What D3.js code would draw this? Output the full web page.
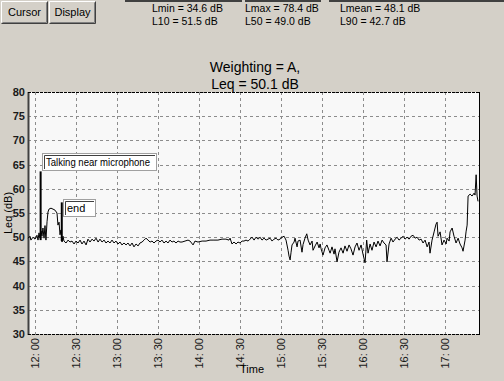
<!DOCTYPE html>
<html>
<head>
<meta charset="utf-8">
<script src="https://cdn.jsdelivr.net/npm/d3@7"></script>
<style>
  body { margin: 0; background: #d4d0c8; }
  svg { display: block; font-family: "Liberation Sans", Arial, sans-serif; }
  .grid line { stroke: #8c8c8c; stroke-dasharray: 3,3; shape-rendering: crispEdges; }
  .tick-lbl { font-size: 11px; font-weight: bold; fill: #1a1a1a; }
</style>
</head>
<body>
<svg width="504" height="381"></svg>
<script>
// minutes after 12:00 and the A-weighted level
const minutes = [-5.3, -3.9, -3.2, -1.7, -0.2, 1.2, 2.0, 2.7, 3.4, 4.2, 4.9, 5.6, 6.4, 7.1, 7.8, 8.6, 9.3, 10.0, 11.5, 13.0,
  14.4, 15.9, 16.6, 17.4, 18.1, 18.8, 19.6, 20.3, 21.0, 22.5, 24.0, 25.4, 26.9, 28.4, 29.8, 31.3, 32.8, 34.2, 35.7, 37.2,
  38.6, 40.1, 41.6, 43.0, 44.5, 46.0, 47.4, 48.9, 50.4, 51.8, 53.3, 54.7, 56.2, 57.7, 59.1, 60.6, 62.1, 63.5, 65.0, 66.5,
  67.9, 69.4, 70.9, 72.3, 73.8, 75.3, 76.7, 78.2, 79.7, 81.1, 82.6, 84.1, 85.5, 87.0, 88.4, 89.9, 91.4, 92.8, 94.3, 95.8,
  97.2, 98.7, 100.2, 101.6, 103.1, 104.6, 106.0, 107.5, 109.7, 111.9, 113.4, 115.6, 117.0, 119.2, 122.2, 125.1, 128.0, 130.9, 133.8, 136.8,
  139.7, 141.9, 142.7, 144.1, 145.6, 147.1, 148.5, 150.0, 151.5, 152.9, 154.4, 155.9, 157.3, 158.8, 160.3, 161.7, 163.2, 164.7, 166.1, 167.6,
  169.1, 170.5, 172.0, 173.5, 174.9, 176.4, 177.8, 179.3, 180.8, 182.3, 183.7, 185.2, 185.9, 186.7, 187.4, 188.1, 189.6, 190.3, 191.8, 192.5,
  194.0, 195.4, 196.2, 197.6, 198.9, 199.9, 201.3, 202.8, 203.5, 205.0, 206.5, 207.9, 208.7, 209.4, 210.8, 212.3, 213.7, 215.2, 216.0, 217.4,
  218.9, 219.6, 221.1, 222.5, 224.0, 225.5, 226.9, 228.4, 229.9, 231.3, 232.8, 234.3, 235.7, 237.2, 238.7, 240.1, 241.6, 242.8, 243.8, 245.3,
  246.7, 248.2, 249.7, 251.1, 252.6, 254.1, 255.5, 257.0, 257.7, 259.2, 260.7, 262.1, 263.6, 265.1, 266.5, 268.0, 269.5, 270.9, 272.4, 273.9,
  275.3, 276.8, 278.3, 279.7, 281.2, 282.7, 284.1, 285.6, 287.1, 288.5, 289.2, 290.7, 292.2, 293.6, 294.4, 295.1, 296.6, 298.0, 299.5, 301.0,
  301.7, 303.2, 303.9, 305.4, 306.8, 308.3, 309.8, 311.2, 312.7, 313.4, 314.9, 315.6, 316.4, 317.1, 318.6, 320.0, 321.5, 322.2, 323.0, 323.7,
  324.4];
const leq = [49.8, 50.2, 49.4, 50.0, 49.6, 50.4, 49.4, 50.9, 49.8, 51.3, 50.2, 51.9, 49.8, 52.4, 49.4, 53.2, 55.2, 55.8, 56.0, 55.8,
  55.6, 55.0, 52.5, 53.1, 50.5, 51.5, 49.0, 50.2, 49.2, 48.8, 49.4, 49.0, 49.2, 48.6, 49.2, 48.8, 49.4, 48.6, 49.2, 48.4,
  49.6, 49.0, 49.6, 49.2, 49.8, 49.0, 49.6, 49.0, 49.4, 48.8, 49.2, 48.8, 49.4, 48.8, 49.2, 48.6, 49.0, 48.4, 48.8, 48.4,
  48.8, 48.2, 48.8, 48.0, 48.6, 48.2, 48.8, 49.0, 49.4, 49.8, 49.4, 49.0, 49.2, 48.8, 49.2, 49.4, 49.0, 49.4, 48.8, 49.2,
  48.8, 49.4, 49.0, 49.2, 48.8, 49.2, 49.0, 49.0, 49.2, 49.4, 49.2, 48.4, 49.2, 49.0, 49.2, 49.2, 49.4, 49.4, 49.4, 49.6,
  49.6, 49.4, 49.8, 48.6, 49.0, 48.6, 49.0, 48.8, 49.2, 49.2, 49.4, 49.2, 49.6, 50.0, 49.4, 50.0, 49.6, 50.0, 49.4, 49.8,
  49.4, 49.6, 49.8, 49.2, 49.6, 49.8, 49.4, 49.6, 50.0, 50.2, 49.4, 47.3, 46.1, 45.3, 46.9, 48.4, 49.0, 49.8, 48.0, 49.2,
  49.4, 46.9, 48.5, 49.8, 50.7, 49.4, 48.4, 49.2, 47.3, 48.2, 49.0, 47.8, 48.6, 47.6, 46.3, 47.8, 48.4, 47.3, 46.7, 48.0,
  46.5, 47.6, 44.9, 46.9, 47.8, 46.7, 48.2, 47.1, 48.4, 47.6, 46.3, 48.0, 48.8, 47.3, 48.4, 46.5, 44.7, 49.4, 46.7, 48.6,
  47.3, 49.0, 48.0, 49.2, 48.2, 49.4, 48.8, 48.4, 44.9, 48.6, 49.8, 49.0, 49.6, 50.0, 49.4, 49.8, 50.2, 49.6, 50.0, 49.6,
  50.2, 50.4, 49.8, 50.0, 49.4, 49.6, 48.8, 49.4, 48.0, 49.0, 46.7, 49.4, 51.1, 52.7, 53.1, 50.2, 51.1, 48.4, 49.4, 48.6,
  49.8, 49.2, 51.1, 51.9, 50.2, 48.8, 49.8, 48.6, 47.8, 47.1, 49.4, 51.1, 52.5, 58.5, 58.9, 58.5, 59.1, 58.7, 62.9, 58.5,
  57.4];

const yTicks = [30, 35, 40, 45, 50, 55, 60, 65, 70, 75, 80];
const xTickMinutes = [0, 30, 60, 90, 120, 150, 180, 210, 240, 270, 300];

const statsLeft = ["Lmin = 34.6 dB", "L10 = 51.5 dB"];
const statsMid = ["Lmax = 78.4 dB", "L50 = 49.0 dB"];
const statsRight = ["Lmean = 48.1 dB", "L90 = 42.7 dB"];
const titleLines = ["Weighting = A,", "Leq = 50.1 dB"];

// annotations: label, minute and level where the marker sits
const noteLabels = ["Talking near microphone", "end"];
const noteMinutes = [3.9, 19.4];
const noteTop = [63.6, 57.2];
const noteBottom = [49.4, 49.2];

const base = new Date(2000, 0, 1, 12, 0);
const toDate = m => new Date(base.getTime() + m * 60000);

const svg = d3.select('svg');
const pLeft = 28, pRight = 479, pTop = 92, pBottom = 334;

const x = d3.scaleTime()
            .domain([toDate(-5.35), toDate(325.1)])
            .range([pLeft, pRight]);
const y = d3.scaleLinear()
            .domain([30, 80])
            .range([pBottom, pTop]);

// buttons
const buttons = [{t: 'Cursor', x: 1, w: 47}, {t: 'Display', x: 49, w: 47}];
buttons.forEach(b => {
    const g = svg.append('g').attr('transform', `translate(${b.x}, 1)`);
    g.append('rect').attr('width', b.w).attr('height', 22).attr('fill', '#d4d0c8');
    g.append('path').attr('d', `M0.5,21.5 V0.5 H${b.w - 0.5}`).attr('stroke', '#ffffff').attr('fill', 'none');
    g.append('path').attr('d', `M0.5,22.5 H${b.w - 0.5} V0.5`).attr('stroke', '#404040').attr('fill', 'none');
    g.append('path').attr('d', `M1.5,21.5 H${b.w - 1.5} V1.5`).attr('stroke', '#808080').attr('fill', 'none');
    g.append('text').attr('x', b.w / 2).attr('y', 15).attr('text-anchor', 'middle')
     .attr('font-size', 11).attr('fill', '#000').text(b.t);
});

// group-box edges peeking at the top
[[125, 242], [245, 321], [329, 504]].forEach(s => {
    svg.append('rect').attr('x', s[0]).attr('y', 0).attr('width', s[1] - s[0]).attr('height', 2).attr('fill', '#404040');
});

const stats = [[152, statsLeft], [245, statsMid], [340, statsRight]];
stats.forEach(s => {
    s[1].forEach((t, i) => {
        svg.append('text').attr('x', s[0]).attr('y', 12 + i * 13)
           .attr('font-size', 10.5).attr('fill', '#000').text(t);
    });
});

// title
titleLines.forEach((t, i) => {
    svg.append('text').attr('x', 255).attr('y', 72 + i * 17)
       .attr('text-anchor', 'middle').attr('font-size', 14).attr('fill', '#000').text(t);
});

// plot background
svg.append('rect').attr('x', pLeft).attr('y', pTop).attr('width', pRight - pLeft).attr('height', pBottom - pTop)
   .attr('fill', '#f8f8f8');

// grid
svg.append('g')
   .attr('class', 'grid')
   .selectAll('line')
   .data(yTicks)
   .join('line')
   .attr('x1', pLeft).attr('x2', pRight)
   .attr('y1', d => Math.round(y(d)) + 0.5)
   .attr('y2', d => Math.round(y(d)) + 0.5);

svg.append('g')
   .attr('class', 'grid')
   .selectAll('line')
   .data(xTickMinutes)
   .join('line')
   .attr('x1', d => Math.round(x(toDate(d))) + 0.5)
   .attr('x2', d => Math.round(x(toDate(d))) + 0.5)
   .attr('y1', pTop).attr('y2', pBottom + 3);

// frame
svg.append('line').attr('x1', pLeft + 0.5).attr('x2', pLeft + 0.5).attr('y1', pTop).attr('y2', pBottom + 1)
   .attr('stroke', '#404040').attr('stroke-width', 2);
svg.append('line').attr('x1', pRight + 0.5).attr('x2', pRight + 0.5).attr('y1', pTop).attr('y2', pBottom + 1)
   .attr('stroke', '#000');
svg.append('line').attr('x1', pLeft).attr('x2', pRight).attr('y1', pTop + 0.5).attr('y2', pTop + 0.5)
   .attr('stroke', '#000').attr('stroke-dasharray', '3,1');
svg.append('line').attr('x1', pLeft).attr('x2', pRight).attr('y1', pBottom + 0.5).attr('y2', pBottom + 0.5)
   .attr('stroke', '#000').attr('stroke-dasharray', '3,1');

// y tick labels
svg.append('g')
   .selectAll('text')
   .data(yTicks)
   .join('text')
   .attr('class', 'tick-lbl')
   .attr('x', 25)
   .attr('y', d => y(d) + 4)
   .attr('text-anchor', 'end')
   .text(d => d);

// x tick labels, rotated
const fmt = d3.timeFormat('%H: %M');
svg.append('g')
   .selectAll('text')
   .data(xTickMinutes)
   .join('text')
   .attr('class', 'tick-lbl')
   .attr('transform', d => `translate(${x(toDate(d)) + 4}, 338) rotate(-90)`)
   .attr('text-anchor', 'end')
   .style('font-weight', 'normal')
   .text(d => fmt(toDate(d)));

// axis titles
svg.append('text').attr('x', 252).attr('y', 373).attr('text-anchor', 'middle')
   .attr('font-size', 11).attr('fill', '#000').text('Time');
svg.append('text').attr('transform', 'translate(12, 213) rotate(-90)').attr('text-anchor', 'middle')
   .attr('font-size', 11).attr('fill', '#000').text('Leq (dB)');

// trace
const series = minutes.map((m, i) => ({t: toDate(m), v: leq[i]}));
svg.append('path')
   .datum(series)
   .attr('fill', 'none')
   .attr('stroke', '#000')
   .attr('stroke-width', 1)
   .attr('d', d3.line().x(d => x(d.t)).y(d => y(d.v)));

// annotations
noteLabels.forEach((t, i) => {
    const ax = x(toDate(noteMinutes[i]));
    const ay = y(noteTop[i]);
    svg.append('line').attr('x1', ax).attr('x2', ax).attr('y1', ay).attr('y2', y(noteBottom[i]))
       .attr('stroke', '#000').attr('stroke-width', 2);
    const bx = ax + 1.5;
    const by = i === 0 ? ay - 18 : ay - 3;
    const g = svg.append('g').attr('transform', `translate(${Math.round(bx)}, ${Math.round(by)})`);
    const w = i === 0 ? 114 : 32;
    g.append('rect').attr('x', 0.5).attr('y', 0.5).attr('width', w).attr('height', 17)
     .attr('fill', '#ffffff').attr('stroke', '#a0a0a0');
    g.append('path').attr('d', `M2.5,16 V2.5 H${w - 1}`).attr('stroke', '#404040').attr('fill', 'none');
    const txt = g.append('text').attr('x', 4).attr('y', 13).attr('font-size', 11).attr('fill', '#000').text(t);
    if (i === 0) txt.attr('textLength', 104).attr('lengthAdjust', 'spacingAndGlyphs');
});
</script>
</body>
</html>
